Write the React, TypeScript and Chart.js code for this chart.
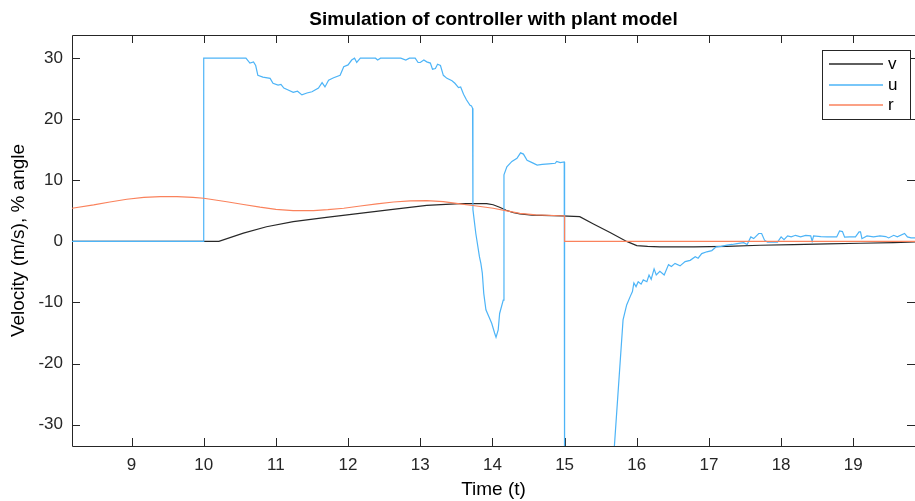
import React, { useEffect, useRef } from 'react';
import { Chart, registerables } from 'chart.js';

Chart.register(...registerables);

const titleText = 'Simulation of controller with plant model';
const xLabel = 'Time (t)';
const yLabel = 'Velocity (m/s), % angle';
const legendNames = ['v', 'u', 'r'];

const xTicks = [9, 10, 11, 12, 13, 14, 15, 16, 17, 18, 19];
const yTicks = [-30, -20, -10, 0, 10, 20, 30];
const xMin = 8.175;
const xMax = 19.855;
const yMin = -33.5;
const yMax = 33.8;

// v (black)
const vT = [8.175, 10.21, 10.55, 10.87, 11.24, 11.7, 12.16, 12.62, 13.09, 13.55, 13.92, 14.01, 14.1, 14.19, 14.28, 14.38, 14.55, 14.96, 15.21, 15.4, 15.63, 15.86, 16.0, 16.15, 16.32, 16.79, 17.25, 17.71, 18.17, 18.64, 19.1, 19.56, 19.86];
const vV = [0, 0, 1.35, 2.4, 3.25, 3.95, 4.6, 5.25, 5.9, 6.2, 6.2, 6.0, 5.6, 5.1, 4.75, 4.5, 4.3, 4.17, 4.06, 2.86, 1.45, 0, -0.68, -0.82, -0.88, -0.9, -0.8, -0.63, -0.52, -0.4, -0.3, -0.2, -0.08];

// u (blue)
const uT = [8.175, 10.0, 10.0, 10.585, 10.64, 10.69, 10.72, 10.75, 10.82, 10.92, 10.96, 11.03, 11.07, 11.11, 11.17, 11.24, 11.3, 11.36, 11.43, 11.5, 11.59, 11.64, 11.68, 11.73, 11.8, 11.89, 11.94, 12.0, 12.05, 12.09, 12.12, 12.17, 12.38, 12.41, 12.45, 12.73, 12.8, 12.85, 12.93, 12.97, 13.0, 13.05, 13.09, 13.14, 13.17, 13.21, 13.24, 13.28, 13.32, 13.37, 13.44, 13.48, 13.53, 13.56, 13.6, 13.64, 13.69, 13.71, 13.725, 13.73, 13.77, 13.82, 13.84, 13.86, 13.88, 13.91, 13.95, 13.99, 14.03, 14.05, 14.08, 14.1, 14.15, 14.16, 14.2, 14.27, 14.34, 14.39, 14.43, 14.48, 14.55, 14.62, 14.69, 14.78, 14.87, 14.89, 14.94, 14.995, 15.0, 15.62, 15.69, 15.81, 15.86, 15.91, 15.94, 15.96, 15.99, 16.02, 16.06, 16.09, 16.14, 16.17, 16.2, 16.24, 16.27, 16.32, 16.38, 16.44, 16.48, 16.53, 16.6, 16.67, 16.74, 16.81, 16.85, 16.9, 16.97, 17.04, 17.1, 17.17, 17.25, 17.32, 17.39, 17.48, 17.53, 17.58, 17.62, 17.69, 17.73, 17.77, 17.81, 17.95, 18.0, 18.04, 18.09, 18.14, 18.2, 18.27, 18.34, 18.41, 18.43, 18.45, 18.55, 18.64, 18.77, 18.81, 18.85, 18.88, 18.95, 19.03, 19.08, 19.1, 19.12, 19.19, 19.28, 19.37, 19.45, 19.49, 19.56, 19.61, 19.71, 19.75, 19.8, 19.86];
const uV = [0, 0, 30, 30, 29.2, 29.4, 28.8, 27.2, 26.9, 26.7, 25.9, 25.6, 25.7, 25.1, 24.8, 24.4, 24.6, 24.0, 24.3, 24.5, 25.1, 26.0, 25.3, 26.4, 26.8, 27.2, 28.6, 28.9, 29.7, 30, 29.3, 30, 30, 29.7, 30, 30, 29.7, 30, 30, 29.3, 29.3, 29.7, 29.4, 29.2, 28.2, 28.3, 29.0, 28.8, 27.2, 26.7, 26.3, 25.9, 25.2, 25.3, 24.1, 23.2, 22.3, 22.2, 21.8, 5.2, 1.3, -2.5, -3.6, -5.2, -8.5, -11.2, -12.3, -13.4, -15.0, -15.7, -14.5, -11.8, -9.6, 10.9, 12.2, 13.1, 13.6, 14.5, 14.3, 13.3, 12.9, 12.5, 12.6, 12.7, 12.8, 13.1, 12.9, 13.0, -45, -45, -33.5, -12.85, -10.4, -9.0, -8.2, -6.8, -7.4, -6.6, -7.0, -6.3, -6.6, -5.5, -6.2, -4.5, -5.5, -4.9, -5.5, -3.8, -4.1, -3.6, -4.0, -3.3, -3.1, -2.5, -2.75, -2.0, -1.7, -1.5, -0.9, -0.8, -0.6, -0.5, -0.35, -0.2, -0.5, 0.74, 0.46, 1.3, 1.3, 0.2, -0.1, -0.1, 0.74, 0.3, 0.9, 0.75, 1.0, 0.75, 1.0, 0.9, 0.0, 0.9, 0.8, 0.74, 0.74, 1.7, 1.6, 0.7, 0.74, 0.74, 1.55, 1.55, 0.45, 0.9, 0.74, 0.9, 0.8, 0.57, 1.0, 0.74, 1.3, 0.74, 0.57, 0.57];

// r (orange)
const rT = [8.175, 8.475, 8.7, 8.935, 9.17, 9.4, 9.63, 9.85, 10.0, 10.32, 10.55, 10.78, 11.0, 11.24, 11.52, 11.72, 11.94, 12.17, 12.4, 12.63, 12.86, 13.09, 13.32, 13.55, 13.78, 14.01, 14.2, 14.38, 14.6, 14.94, 15.0, 15.0, 19.86];
const rV = [5.43, 5.97, 6.45, 6.9, 7.2, 7.33, 7.33, 7.2, 7.07, 6.5, 6.05, 5.6, 5.25, 5.05, 5.05, 5.2, 5.43, 5.8, 6.14, 6.45, 6.63, 6.68, 6.5, 6.14, 5.8, 5.43, 5.0, 4.6, 4.35, 4.2, 4.17, 0, 0];

const colV = 'rgb(40,40,40)';
const colU = 'rgb(77,180,247)';
const colR = 'rgb(250,130,92)';
const axisCol = '#262626';
const FONT = '"Liberation Sans", Arial, Helvetica, sans-serif';

const toPts = (t: number[], v: number[]) => t.map((x, i) => ({ x, y: v[i] }));

const framePlugin = {
  id: 'matlabFrame',
  beforeDatasetsDraw(chart: any) {
    const { ctx, chartArea: a, scales } = chart;
    ctx.save();
    ctx.strokeStyle = axisCol;
    ctx.lineWidth = 1;
    ctx.beginPath();
    ctx.rect(Math.round(a.left) + 0.5, Math.round(a.top) + 0.5, Math.round(a.right - a.left), Math.round(a.bottom - a.top));
    xTicks.forEach((v) => {
      const x = Math.round(scales.x.getPixelForValue(v)) + 0.5;
      ctx.moveTo(x, a.bottom);
      ctx.lineTo(x, a.bottom - 8);
      ctx.moveTo(x, a.top);
      ctx.lineTo(x, a.top + 8);
    });
    yTicks.forEach((v) => {
      const y = Math.round(scales.y.getPixelForValue(v)) + 0.5;
      ctx.moveTo(a.left, y);
      ctx.lineTo(a.left + 8, y);
      ctx.moveTo(a.right, y);
      ctx.lineTo(a.right - 8, y);
    });
    ctx.stroke();
    ctx.restore();
  },
  afterDraw(chart: any) {
    const { ctx, chartArea: a } = chart;
    ctx.save();
    ctx.fillStyle = '#000';
    ctx.font = 'bold 19px ' + FONT;
    ctx.textAlign = 'center';
    ctx.textBaseline = 'alphabetic';
    ctx.fillText(titleText, (a.left + a.right) / 2, 25);
    // legend
    const bx = 822.5, by = 50.5, bw = 88, bh = 69;
    ctx.fillStyle = '#fff';
    ctx.fillRect(bx, by, bw, bh);
    ctx.strokeStyle = axisCol;
    ctx.lineWidth = 1;
    ctx.strokeRect(bx, by, bw, bh);
    const cols = [colV, colU, colR];
    const ys = [64, 85, 105];
    ctx.textAlign = 'left';
    ctx.font = '17px ' + FONT;
    legendNames.forEach((n, i) => {
      ctx.strokeStyle = cols[i];
      ctx.lineWidth = 1.5;
      ctx.beginPath();
      ctx.moveTo(829, ys[i]);
      ctx.lineTo(883, ys[i]);
      ctx.stroke();
      ctx.fillStyle = '#000';
      ctx.fillText(n, 888, ys[i] + 5);
    });
    ctx.restore();
  },
};

export default function App() {
  const ref = useRef<HTMLCanvasElement | null>(null);
  useEffect(() => {
    document.body.style.margin = '0';
    const canvas = ref.current;
    if (!canvas) return;
    const chart = new Chart(canvas, {
      type: 'line',
      data: {
        datasets: [
          { label: legendNames[0], data: toPts(vT, vV), borderColor: colV, borderWidth: 1.2, pointRadius: 0, tension: 0, order: 3 },
          { label: legendNames[1], data: toPts(uT, uV), borderColor: colU, borderWidth: 1.2, pointRadius: 0, tension: 0, order: 2 },
          { label: legendNames[2], data: toPts(rT, rV), borderColor: colR, borderWidth: 1.2, pointRadius: 0, tension: 0, order: 1 },
        ],
      },
      options: {
        animation: false,
        responsive: false,
        maintainAspectRatio: false,
        parsing: false as any,
        layout: { padding: { top: 35, right: 0, left: 0, bottom: 0 } },
        plugins: { legend: { display: false }, title: { display: false }, tooltip: { enabled: false } },
        scales: {
          x: {
            type: 'linear',
            min: xMin,
            max: xMax,
            grid: { display: false, drawTicks: false },
            border: { display: false },
            afterBuildTicks: (s: any) => { s.ticks = xTicks.map((value) => ({ value })); },
            afterFit: (s: any) => { s.height = 55; },
            ticks: { font: { family: FONT, size: 17 }, color: axisCol, padding: 9, maxRotation: 0, autoSkip: false },
            title: { display: true, text: xLabel, font: { family: FONT, size: 19 }, color: '#000', padding: { top: 0, bottom: 0 } },
          },
          y: {
            type: 'linear',
            min: yMin,
            max: yMax,
            grid: { display: false, drawTicks: false },
            border: { display: false },
            afterBuildTicks: (s: any) => { s.ticks = yTicks.map((value) => ({ value })); },
            afterFit: (s: any) => { s.width = 72; },
            ticks: { font: { family: FONT, size: 17 }, color: axisCol, padding: 9, autoSkip: false },
            title: { display: true, text: yLabel, font: { family: FONT, size: 19 }, color: '#000', padding: { top: 7, bottom: 0 } },
          },
        },
      },
      plugins: [framePlugin],
    } as any);
    return () => chart.destroy();
  }, []);
  return (
    <div style={{ width: 915, height: 501 }}>
      <canvas ref={ref} width={915} height={501} style={{ display: 'block' }} />
    </div>
  );
}
